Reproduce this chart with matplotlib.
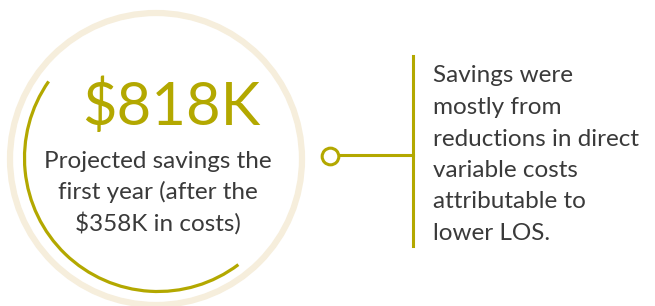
import matplotlib
matplotlib.use('Agg')
import matplotlib.pyplot as plt
from matplotlib.patches import Circle, Arc

# content
savings = "$818K"
costs = "$358K"
left_lines = ["Projected savings the", "first year (after the", costs + " in costs)"]
right_lines = ["Savings were", "mostly from", "reductions in direct",
               "variable costs", "attributable to", "lower LOS."]

olive = '#B3A800'
beige = '#F6EEDC'
grey = '#3a3a3a'

fig = plt.figure(figsize=(6.55, 3.06), dpi=100)
ax = fig.add_axes([0, 0, 1, 1])
ax.set_xlim(0, 655)
ax.set_ylim(306, 0)
ax.set_aspect('equal')
ax.axis('off')

# big circle + arc
ax.add_patch(Circle((156, 159), 146, fill=False, ec=beige, lw=4.5))
ax.add_patch(Arc((158, 158), 267, 267, theta1=-307, theta2=-145, color=olive, lw=2.3))

ax.text(171, 107, savings, color=olive, fontsize=43, family='Lato',
        ha='center', va='center')
for i, s in enumerate(left_lines):
    ax.text(158, 161 + i * 31, s, color=grey, fontsize=17.5, family='Lato',
            ha='center', va='center')

# connector
ax.plot([337, 413], [155, 155], color=olive, lw=2.2)
ax.plot([413, 413], [56, 246], color=olive, lw=2.2)
ax.plot(330, 156, 'o', ms=12, mfc='white', mec=olive, mew=2.2)

for i, s in enumerate(right_lines):
    ax.text(433, 76 + i * 31.5, s, color=grey, fontsize=17.5, family='Lato',
            ha='left', va='center')

fig.savefig('out.png', dpi=100)
